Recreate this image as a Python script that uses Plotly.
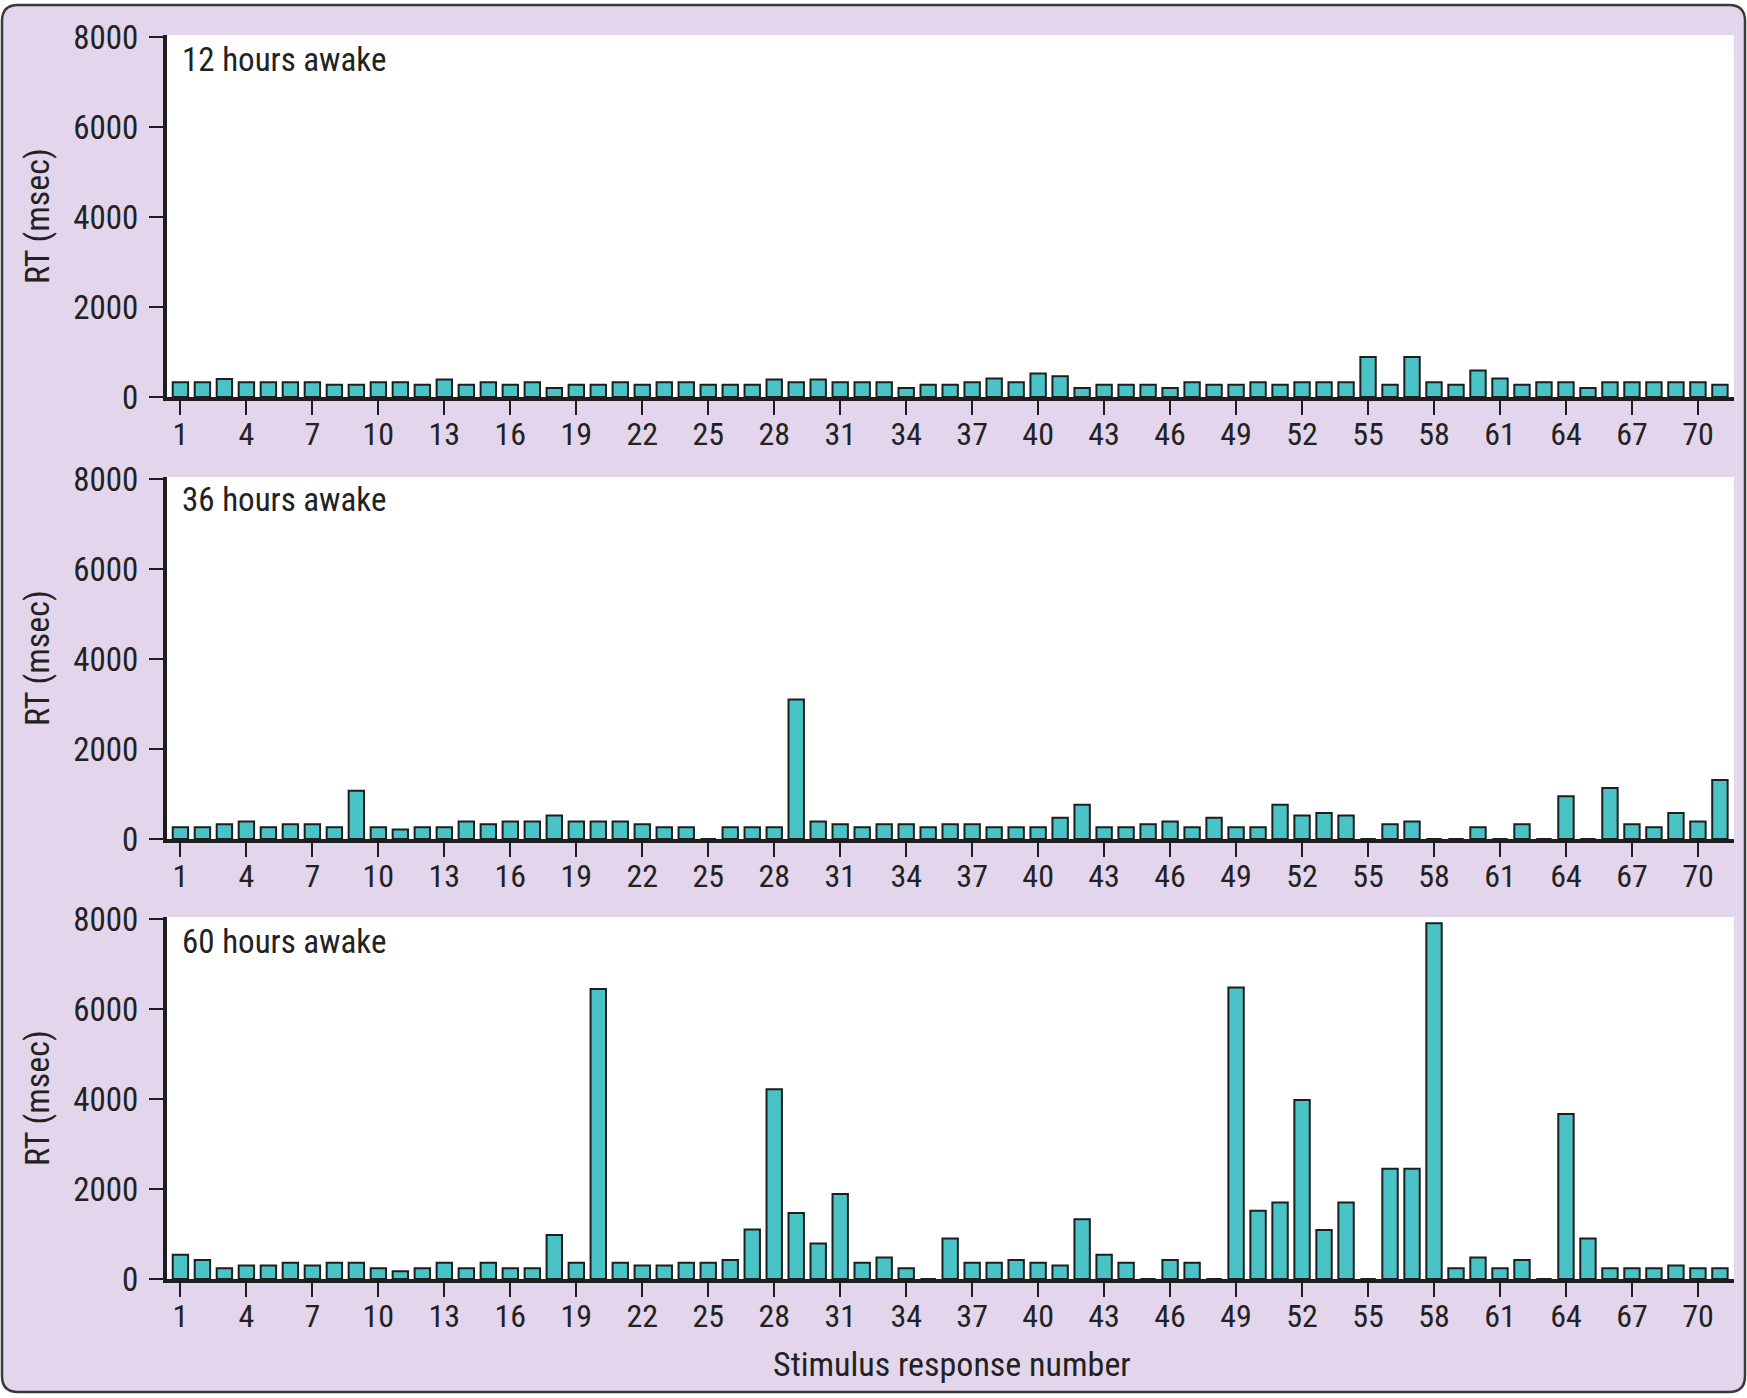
import plotly.graph_objects as go

# ---------------- data ----------------
responses = list(range(1, 72))

rt_12h = [330, 330, 400, 330, 330, 330, 330, 270, 270, 330,
          330, 270, 390, 270, 330, 270, 330, 200, 270, 270,
          330, 270, 330, 330, 270, 270, 270, 390, 330, 390,
          330, 330, 330, 200, 270, 270, 330, 410, 330, 520,
          460, 200, 270, 270, 270, 200, 330, 270, 270, 330,
          270, 330, 330, 330, 890, 270, 890, 330, 270, 590,
          410, 270, 330, 330, 200, 330, 330, 330, 330, 330,
          270]

rt_36h = [260, 260, 330, 390, 260, 330, 330, 260, 1075, 260,
          210, 260, 260, 390, 330, 390, 390, 520, 390, 390,
          390, 330, 260, 260, 0, 260, 260, 260, 3100, 390,
          330, 260, 330, 330, 260, 330, 330, 260, 260, 260,
          470, 760, 260, 260, 330, 390, 260, 470, 260, 260,
          760, 520, 580, 520, 0, 330, 390, 0, 0, 260,
          0, 330, 0, 950, 0, 1135, 330, 260, 580, 390,
          1310]

rt_60h = [540, 420, 240, 300, 300, 360, 300, 360, 360, 240,
          170, 240, 360, 240, 360, 240, 240, 980, 360, 6450,
          360, 300, 300, 360, 360, 420, 1100, 4220, 1470, 790,
          1890, 360, 480, 240, 0, 900, 360, 360, 420, 360,
          300, 1330, 540, 360, 0, 420, 360, 0, 6480, 1520,
          1700, 3980, 1090, 1700, 0, 2450, 2450, 7910, 240, 480,
          240, 420, 0, 3670, 900, 240, 240, 240, 300, 240,
          240]

panel_titles = ["12 hours awake", "36 hours awake", "60 hours awake"]
x_tick_vals = list(range(1, 71, 3))
x_tick_text = [str(v) for v in x_tick_vals]
y_tick_vals = [0, 2000, 4000, 6000, 8000]
y_tick_text = [str(v) for v in y_tick_vals]
y_title = "RT (msec)"
x_title = "Stimulus response number"

# ---------------- style / layout ----------------
W, H = 1747, 1398
LAV = "#E2D5EC"
TEAL = "#4AC3C6"
DARK = "#1E1E1E"
TXT = "#222222"
FONT = "Roboto Condensed, Liberation Sans Narrow, Liberation Sans, Arial, sans-serif"

def px(x):
    return x / W

def py(y):
    return 1 - y / H

x_dom = [px(167), px(1734)]
# (bottom pixel, top pixel) of each panel's plot area
panels_px = [(397, 35), (839, 477), (1279, 917)]

series = [rt_12h, rt_36h, rt_60h]

fig = go.Figure()
for i, vals in enumerate(series):
    suffix = "" if i == 0 else str(i + 1)
    fig.add_trace(go.Bar(
        x=responses, y=vals,
        xaxis="x" + suffix, yaxis="y" + suffix,
        width=0.7,
        marker=dict(color=TEAL, line=dict(color=DARK, width=2)),
        showlegend=False,
    ))

layout = dict(
    width=W, height=H, autosize=False,
    margin=dict(l=0, r=0, t=0, b=0, pad=0, autoexpand=False),
    paper_bgcolor=LAV, plot_bgcolor="white",
    font=dict(family=FONT, color=TXT, size=32),
)

for i, (bpx, tpx) in enumerate(panels_px):
    suffix = "" if i == 0 else str(i + 1)
    layout["xaxis" + suffix] = dict(
        domain=x_dom, anchor="y" + suffix,
        range=[0.39, 71.64],
        tickmode="array", tickvals=x_tick_vals, ticktext=x_tick_text,
        ticks="outside", ticklen=14, tickwidth=2, tickcolor=DARK,
        ticklabelstandoff=-8,
        showline=True, linewidth=3.5, linecolor=DARK,
        showgrid=False, zeroline=False, automargin=False,
        tickfont=dict(size=32, family=FONT, color=TXT),
        fixedrange=True,
    )
    layout["yaxis" + suffix] = dict(
        domain=[py(bpx), py(tpx)], anchor="x" + suffix,
        range=[0, 8050],
        tickmode="array", tickvals=y_tick_vals, ticktext=y_tick_text,
        ticks="outside", ticklen=14, tickwidth=2, tickcolor=DARK,
        ticklabelstandoff=4,
        showline=True, linewidth=4, linecolor=DARK,
        showgrid=False, zeroline=False, automargin=False,
        tickfont=dict(size=33, family=FONT, color=TXT),
        fixedrange=True,
    )

annotations = []
title_y = [59, 499, 941]
ytitle_y = [216, 658, 1098]
for i in range(3):
    annotations.append(dict(
        text=panel_titles[i], xref="paper", yref="paper",
        x=px(180), y=py(title_y[i]), xanchor="left", yanchor="middle",
        showarrow=False, font=dict(size=33, family=FONT, color=TXT),
    ))
    annotations.append(dict(
        text=y_title, xref="paper", yref="paper",
        x=px(37), y=py(ytitle_y[i]), xanchor="center", yanchor="middle",
        textangle=-90, showarrow=False,
        font=dict(size=34, family=FONT, color=TXT),
    ))
annotations.append(dict(
    text=x_title, xref="paper", yref="paper",
    x=px(952), y=py(1364), xanchor="center", yanchor="middle",
    showarrow=False, font=dict(size=34, family=FONT, color=TXT),
))
layout["annotations"] = annotations

# rounded outer frame
L, T, R, B, r = 2, 5, 1745, 1392, 16
def rr_path():
    return (f"M{px(L + r)},{py(T)} L{px(R - r)},{py(T)} Q{px(R)},{py(T)} {px(R)},{py(T + r)} "
            f"L{px(R)},{py(B - r)} Q{px(R)},{py(B)} {px(R - r)},{py(B)} "
            f"L{px(L + r)},{py(B)} Q{px(L)},{py(B)} {px(L)},{py(B - r)} "
            f"L{px(L)},{py(T + r)} Q{px(L)},{py(T)} {px(L + r)},{py(T)} Z")

mask_path = "M0,0 L1,0 L1,1 L0,1 Z " + rr_path()
layout["shapes"] = [
    dict(type="path", path=mask_path, xref="paper", yref="paper",
         fillcolor="white", fillrule="evenodd", line=dict(width=0), layer="below"),
    dict(type="path", path=rr_path(), xref="paper", yref="paper",
         line=dict(color="#3A3A3A", width=2.5), layer="above"),
]

fig.update_layout(**layout)
fig.write_html("out.html", config={"displayModeBar": False},
               post_script="document.body.style.margin='0';")
